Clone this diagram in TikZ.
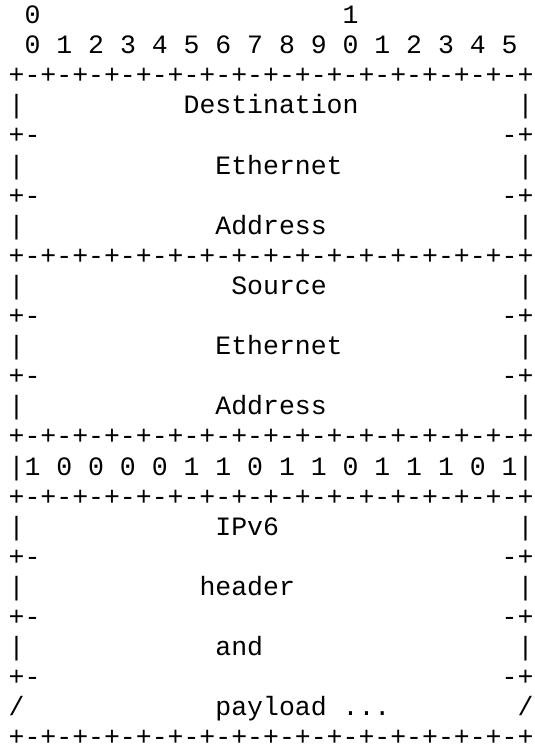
\documentclass[tikz,border=0pt]{standalone}
\usepackage{fontspec}
\setmonofont{Liberation Mono}
\def\bd{+-+-+-+-+-+-+-+-+-+-+-+-+-+-+-+-+}
\tikzset{asc/.style={font=\ttfamily\fontsize{26.5pt}{30.1pt}\selectfont, inner sep=0pt, anchor=base west, text=black}}
\begin{document}
\begin{tikzpicture}[x=15.9pt,y=-30.1pt]
\useasboundingbox[fill=white] (-8.5pt,23.5pt) rectangle ++(535pt,-749pt);
\node[asc] (h0) at (1,0) {0};
\node[asc] (h1) at (21,0) {1};
\foreach \i in {0,...,15}{
  \pgfmathtruncatemacro\d{mod(\i,10)}
  \node[asc] (d\i) at ({1+2*\i},1) {\d};
}
\foreach \r in {2,8,14,16} \node[asc] (border\r) at (0,\r) {\bd};
\node[asc, text depth=0pt] (border24) at (0,24) {\bd};
\foreach \r in {4,6,10,12,18,20,22}{
  \node[asc] (hl\r) at (0,\r) {+-};
  \node[asc] (hr\r) at (31,\r) {-+};
}
\foreach \r in {3,5,7,9,11,13,17,19,21}{
  \node[asc] (vl\r) at (0,\r) {|};
  \node[asc] (vr\r) at (32,\r) {|};
}
\node[asc] (bits) at (0,15) {|1~0~0~0~0~1~1~0~1~1~0~1~1~1~0~1|};
\node[asc] (sl23) at (0,23) {/};
\node[asc] (sr23) at (32,23) {/};
\node[asc] (dst) at (11,3) {Destination};
\node[asc] (eth1) at (13,5) {Ethernet};
\node[asc] (adr1) at (13,7) {Address};
\node[asc] (src) at (14,9) {Source};
\node[asc] (eth2) at (13,11) {Ethernet};
\node[asc] (adr2) at (13,13) {Address};
\node[asc] (ipv6) at (13,17) {IPv6};
\node[asc] (hdr) at (12,19) {header};
\node[asc] (and) at (13,21) {and};
\node[asc] (pay) at (13,23) {payload~...};
\end{tikzpicture}
\end{document}
